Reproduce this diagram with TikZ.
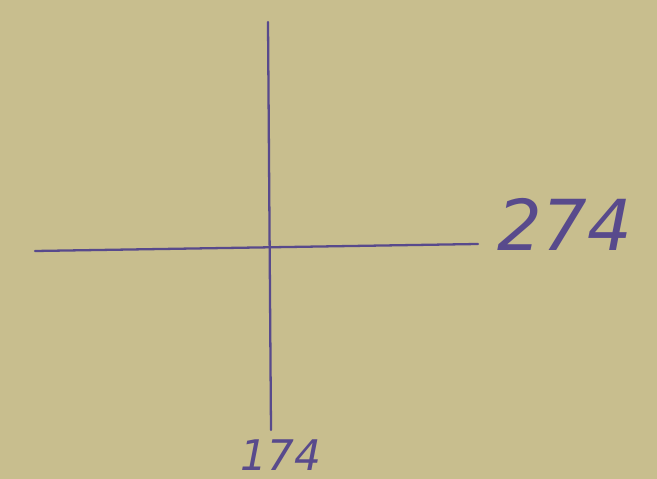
\documentclass[tikz,border=0pt]{standalone}
\usepackage{fontspec}
\setmainfont{DejaVu Sans}
\definecolor{paper}{RGB}{200,190,142}
\definecolor{ink}{RGB}{88,74,140}
\begin{document}
\begin{tikzpicture}[x=0.02cm,y=-0.02cm,
  pen/.style={draw=ink,line width=1.3pt,line cap=round},
  lbl/.style={text=ink,inner sep=0pt,font=\itshape}]
\fill[paper] (0,0) rectangle (657,479);
\useasboundingbox (0,0) rectangle (657,479);
\coordinate (hl) at (35,251);
\coordinate (hr) at (478,244);
\coordinate (vt) at (268,22);
\coordinate (vb) at (271,430);
\draw[pen] (hl) -- (hr);
\draw[pen] (vt) -- (vb);
\node[lbl,font=\itshape\fontsize{40}{40}\selectfont] (a) at (565,224) {274};
\node[lbl,font=\itshape\fontsize{24}{24}\selectfont] (b) at (281,455) {174};
\end{tikzpicture}
\end{document}
